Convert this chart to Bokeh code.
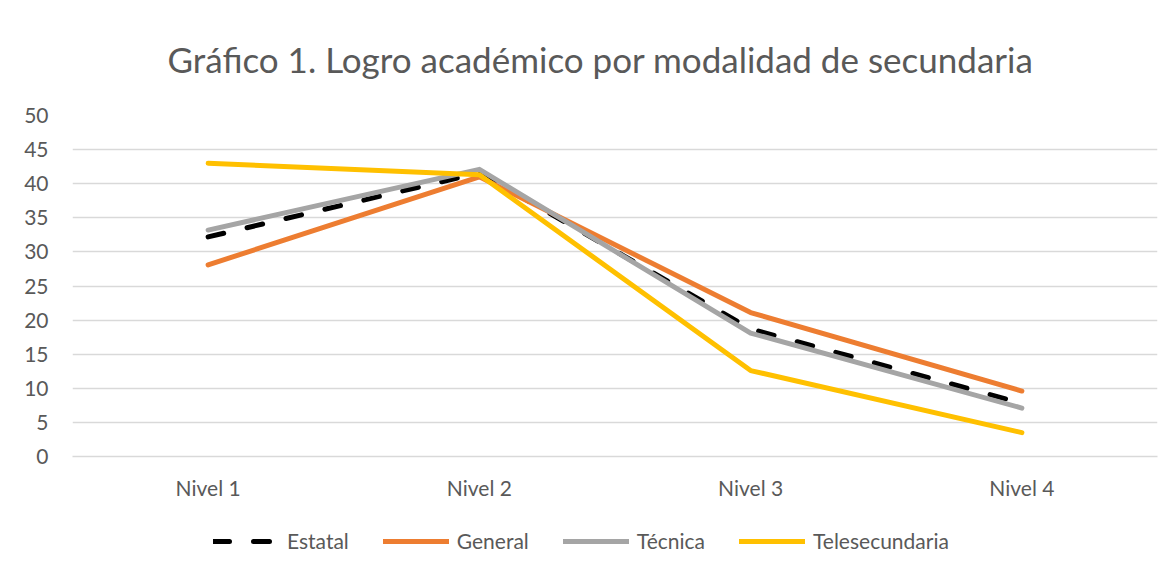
from bokeh.plotting import figure
from bokeh.models import Legend, LegendItem, FixedTicker, Range1d
from bokeh.layouts import column
from bokeh.embed import file_html
from bokeh.resources import INLINE

categories = ["Nivel 1", "Nivel 2", "Nivel 3", "Nivel 4"]
estatal = [32.2, 41.6, 18.7, 7.8]
general = [28.1, 41.0, 21.1, 9.6]
tecnica = [33.2, 42.1, 18.1, 7.1]
telesecundaria = [43.0, 41.3, 12.6, 3.5]
y_ticks = [0, 5, 10, 15, 20, 25, 30, 35, 40, 45, 50]

FONT = "Lato"
TXT = "#595959"
GRID = "#D9D9D9"

p = figure(x_range=categories, y_range=Range1d(0, 50), width=1167, height=510,
           output_backend="svg", toolbar_location=None,
           title="Gráfico 1. Logro académico por modalidad de secundaria",
           min_border_left=72, min_border_right=10, min_border_top=112, min_border_bottom=54)
p.outline_line_color = None
p.title.align = "left"
p.title.offset = 95
p.title.text_font = FONT
p.title.text_font_size = "35px"
p.title.text_font_style = "normal"
p.title.text_color = TXT
p.title.standoff = 71

p.xgrid.grid_line_color = None
p.ygrid.grid_line_color = GRID
p.ygrid.grid_line_width = 1.5
p.yaxis.ticker = FixedTicker(ticks=y_ticks)
p.yaxis.axis_line_color = None
p.yaxis.major_tick_line_color = None
p.yaxis.minor_tick_line_color = None
p.yaxis.major_tick_out = 0
p.yaxis.major_label_standoff = 24
p.xaxis.axis_line_color = GRID
p.xaxis.axis_line_width = 1.5
p.xaxis.major_tick_line_color = None
p.xaxis.major_tick_out = 0
p.xaxis.major_label_standoff = 18
for ax in (p.xaxis, p.yaxis):
    ax.major_label_text_font = FONT
    ax.major_label_text_font_size = "21px"
    ax.major_label_text_color = TXT

series = [
    ("Estatal", estatal, "#000000", "16 24"),
    ("General", general, "#ED7D31", "solid"),
    ("Técnica", tecnica, "#A5A5A5", "solid"),
    ("Telesecundaria", telesecundaria, "#FFC000", "solid"),
]

# legend lives in its own strip below the chart (its lines sit outside its visible range)
lf = figure(width=1167, height=62, x_range=categories, y_range=Range1d(100, 101),
            output_backend="svg", toolbar_location=None,
            min_border=0, min_border_left=72, min_border_right=10,
            min_border_top=0, min_border_bottom=0)
lf.axis.visible = False
lf.grid.visible = False
lf.outline_line_color = None

items = []
for name, vals, col, dash in series:
    p.line(categories, vals, line_color=col, line_width=5, line_dash=dash,
           line_cap="round", line_join="round")
    r = lf.line(categories, vals, line_color=col, line_width=5, line_dash=dash,
                line_cap="round", line_join="round")
    items.append(LegendItem(label=name, renderers=[r]))

legend = Legend(items=items, orientation="horizontal", location=(141, 19),
                label_text_font=FONT, label_text_font_size="21px", label_text_color=TXT,
                glyph_width=66, glyph_height=24, label_standoff=8, spacing=34,
                border_line_color=None, background_fill_alpha=0, margin=0, padding=0)
lf.add_layout(legend, "center")

layout = column(p, lf, spacing=0)
open("out.html", "w").write(file_html(layout, INLINE))
